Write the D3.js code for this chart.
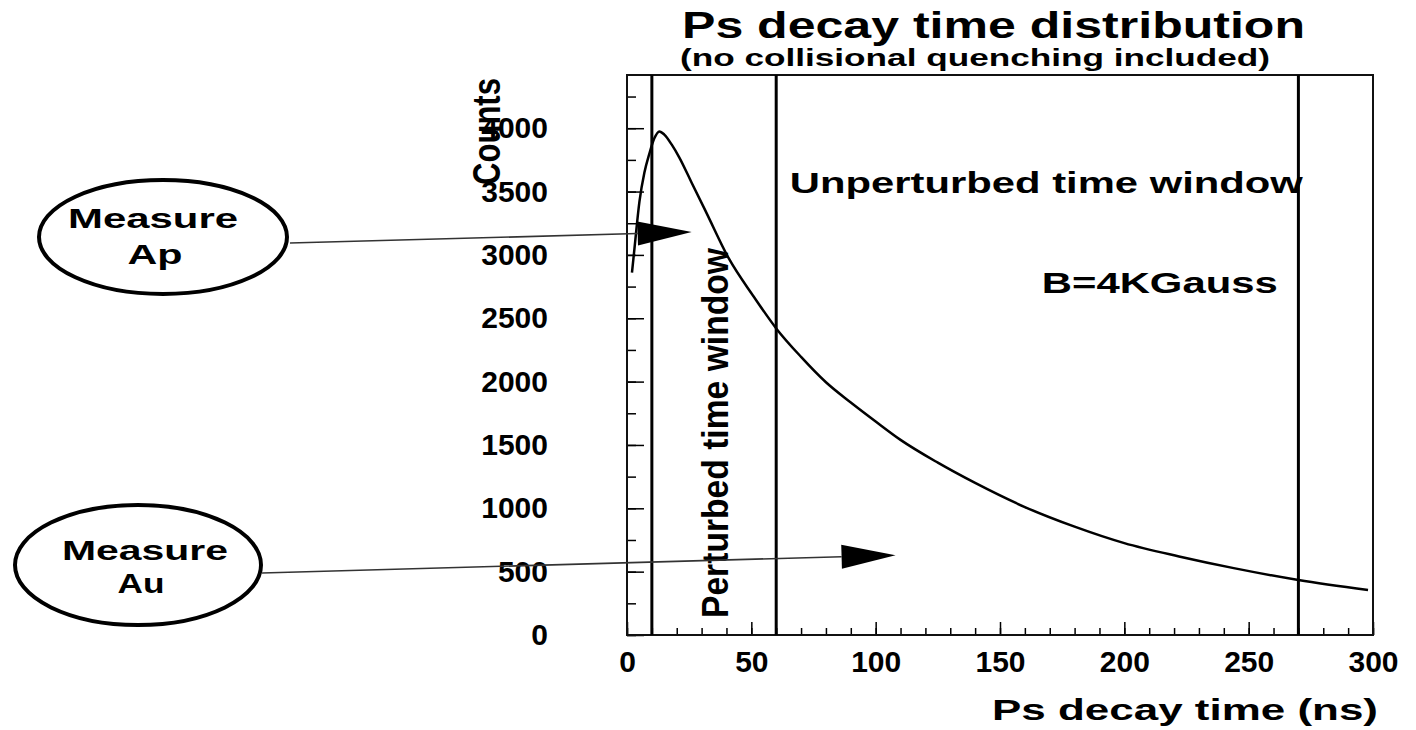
<!DOCTYPE html>
<html lang="en">
<head>
  <meta charset="UTF-8">
  <title>Ps decay time distribution</title>
  <script src="https://d3js.org/d3.v7.min.js"></script>
  <style>
    body { margin: 0; background: #fff; }
    text { font-family: "Liberation Sans", Arial, Helvetica, sans-serif; font-weight: bold; fill: #000; }
  </style>
</head>
<body>
<div id="chart"></div>
<script>

// values
const decayTime = [2, 3, 5, 7, 9, 11, 13, 15, 18, 21, 26, 32, 41, 51, 60, 70, 80, 90, 100, 110, 125, 140, 160, 180, 200, 222, 244, 270, 298];
const counts = [2860, 3050, 3420, 3650, 3800, 3920, 3975, 3950, 3870, 3770, 3570, 3330, 2970, 2670, 2420, 2195, 1995, 1835, 1685, 1540, 1360, 1200, 1010, 855, 725, 620, 528, 434, 355];

const windowEdges = [10, 60, 270];
const xTicks = [0, 50, 100, 150, 200, 250, 300];
const yTicks = [0, 500, 1000, 1500, 2000, 2500, 3000, 3500, 4000];

const measureLabels = [["Measure", "Ap"], ["Measure", "Au"]];
const arrowTipTime = [26, 108];
const arrowTipCount = [3180, 630];

const width = 1416;
const height = 730;

const x = d3.scaleLinear().domain([0, 300]).range([627, 1373]);
const y = d3.scaleLinear().domain([0, 4420]).range([635, 75]);

const svg = d3.select("#chart")
  .append("svg")
  .attr("width", width)
  .attr("height", height);

// minor ticks, drawn inside the frame
svg.append("g")
  .attr("transform", `translate(0,${y(0)})`)
  .call(d3.axisBottom(x).tickValues(d3.range(0, 301, 10)).tickSize(-7).tickFormat(""))
  .call(g => g.select(".domain").remove())
  .selectAll("line").attr("stroke-width", 1.5);

svg.append("g")
  .attr("transform", `translate(${x(0)},0)`)
  .call(d3.axisLeft(y).tickValues(d3.range(0, 4420, 250)).tickSize(-9).tickFormat(""))
  .call(g => g.select(".domain").remove())
  .selectAll("line").attr("stroke-width", 1.5);

// major ticks + labels
const xAxis = svg.append("g")
  .attr("transform", `translate(0,${y(0)})`)
  .call(d3.axisBottom(x).tickValues(xTicks).tickSize(-13).tickPadding(16).tickFormat(d3.format("d")))
  .call(g => g.select(".domain").remove())
xAxis.attr("font-size", 30)
xAxis.selectAll("line").attr("stroke-width", 1.5)

const yAxis = svg.append("g")
  .attr("transform", `translate(${x(0)},0)`)
  .call(d3.axisLeft(y).tickValues(yTicks).tickSize(-17).tickPadding(79).tickFormat(d3.format("d")))
  .call(g => g.select(".domain").remove())
yAxis.attr("font-size", 30)
yAxis.selectAll("line").attr("stroke-width", 1.5)

// frame
svg.append("rect")
  .attr("x", x(0))
  .attr("y", y(4420))
  .attr("width", x(300) - x(0))
  .attr("height", y(0) - y(4420))
  .attr("fill", "none")
  .attr("stroke", "#111")
  .attr("stroke-width", 2)

// time window edges
svg.selectAll(".edge")
  .data(windowEdges)
  .enter().append("line")
  .attr("class", "edge")
  .attr("x1", d => x(d))
  .attr("x2", d => x(d))
  .attr("y1", y(4420))
  .attr("y2", y(0))
  .attr("stroke", "#000")
  .attr("stroke-width", 3)

// decay curve
const line = d3.line()
  .x(d => x(d[0]))
  .y(d => y(d[1]))
  .curve(d3.curveMonotoneX)

svg.append("path")
  .datum(d3.zip(decayTime, counts))
  .attr("d", line)
  .attr("fill", "none")
  .attr("stroke", "#000")
  .attr("stroke-width", 2.5)

// titles
svg.append("text")
  .attr("x", 682).attr("y", 38)
  .attr("font-size", 36)
  .attr("textLength", 623).attr("lengthAdjust", "spacingAndGlyphs")
  .text("Ps decay time distribution")

svg.append("text")
  .attr("x", 680).attr("y", 66)
  .attr("font-size", 23)
  .attr("textLength", 590).attr("lengthAdjust", "spacingAndGlyphs")
  .text("(no collisional quenching included)")

svg.append("text")
  .attr("x", 992).attr("y", 720)
  .attr("font-size", 30)
  .attr("textLength", 386).attr("lengthAdjust", "spacingAndGlyphs")
  .text("Ps decay time (ns)")

svg.append("text")
  .attr("transform", "translate(500,185) scale(1.3,1) rotate(-90)")
  .attr("font-size", 30)
  .attr("textLength", 107).attr("lengthAdjust", "spacingAndGlyphs")
  .text("Counts")

// labels inside the plot
svg.append("text")
  .attr("x", x(65.5)).attr("y", y(3485))
  .attr("font-size", 29)
  .attr("textLength", 513).attr("lengthAdjust", "spacingAndGlyphs")
  .text("Unperturbed time window")

svg.append("text")
  .attr("x", x(166.8)).attr("y", y(2697))
  .attr("font-size", 29)
  .attr("textLength", 236).attr("lengthAdjust", "spacingAndGlyphs")
  .text("B=4KGauss")

svg.append("text")
  .attr("transform", `translate(${x(40.6)},${y(134)}) scale(1.3,1) rotate(-90)`)
  .attr("font-size", 28)
  .attr("textLength", 370).attr("lengthAdjust", "spacingAndGlyphs")
  .text("Perturbed time window")

// "Measure" bubbles with arrows into the plot
const bubbles = [
  {cx: 163, cy: 237, rx: 124, ry: 57, tail: [290, 243], text: [[153, 228, 170], [155, 264, 55]]},
  {cx: 138, cy: 565, rx: 123, ry: 60, tail: [262, 573], text: [[145, 560, 166], [141, 593, 47]]}
];

bubbles.forEach((b, i) => {
  svg.append("ellipse")
    .attr("cx", b.cx).attr("cy", b.cy)
    .attr("rx", b.rx).attr("ry", b.ry)
    .attr("fill", "none")
    .attr("stroke", "#000")
    .attr("stroke-width", 4)

  measureLabels[i].forEach((s, j) => {
    svg.append("text")
      .attr("x", b.text[j][0]).attr("y", b.text[j][1])
      .attr("text-anchor", "middle")
      .attr("font-size", 28)
      .attr("textLength", b.text[j][2]).attr("lengthAdjust", "spacingAndGlyphs")
      .text(s)
  })

  const tx = x(arrowTipTime[i]), ty = y(arrowTipCount[i]);
  const [x0, y0] = b.tail;
  const len = Math.hypot(tx - x0, ty - y0);
  const ux = (tx - x0) / len, uy = (ty - y0) / len;
  const bx = tx - ux * 54, by = ty - uy * 54;

  svg.append("line")
    .attr("x1", x0).attr("y1", y0)
    .attr("x2", bx).attr("y2", by)
    .attr("stroke", "#333")
    .attr("stroke-width", 1.6)

  svg.append("polygon")
    .attr("points", [[tx, ty], [bx - uy * 12, by + ux * 12], [bx + uy * 12, by - ux * 12]].map(p => p.join(",")).join(" "))
    .attr("fill", "#000")
})

</script>
</body>
</html>
